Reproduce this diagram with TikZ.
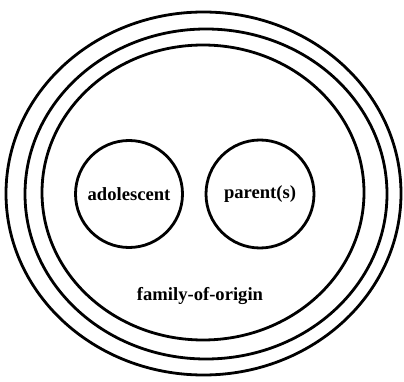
\documentclass[tikz,border=0pt]{standalone}
\usepackage{fontspec}
\setmainfont{Liberation Serif}
\usetikzlibrary{shapes.geometric}
\begin{document}
\begin{tikzpicture}[x=1pt,y=-1pt,
  ring/.style={ellipse,draw,line width=2.8pt,inner sep=0pt},
  person/.style={circle,draw,line width=2.8pt,inner sep=0pt},
  lbl/.style={font=\fontsize{18.6}{20}\selectfont\bfseries,inner sep=0pt}]
\useasboundingbox (0,0) rectangle (404,382);
\node[ring,minimum width=395pt,minimum height=363pt] (outer) at (203.5,193.5) {};
\node[ring,minimum width=362pt,minimum height=330pt] (middle) at (206,194) {};
\node[ring,minimum width=322pt,minimum height=295pt] (inner) at (203,192.5) {};
\node[person,minimum size=107pt] (ado) at (129,194) {};
\node[person,minimum size=108pt] (par) at (260,194) {};
\node[lbl] (adot) at (ado.center) {adolescent};
\node[lbl] (part) at (par.center) {parent(s)};
\node[lbl] (fam) at (200,296) {family-of-origin};
\end{tikzpicture}
\end{document}
